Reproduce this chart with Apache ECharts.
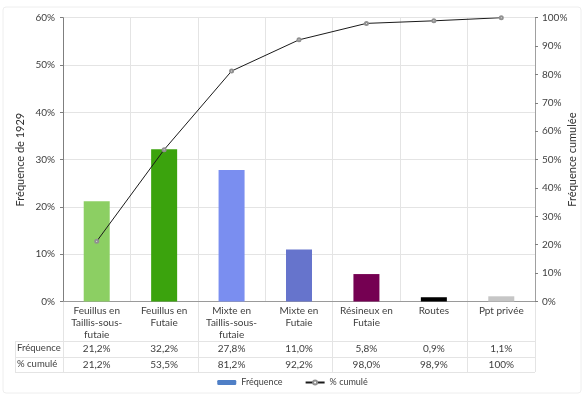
<!DOCTYPE html>
<html>
<head>
<meta charset="utf-8">
<script src="https://cdn.jsdelivr.net/npm/echarts@6/dist/echarts.min.js"></script>
<style>
  html, body { margin: 0; padding: 0; background: #fff; }
  #chart { width: 585px; height: 397px; }
</style>
</head>
<body>
<div id="chart"></div>
<script>
var categories = ['Feuillus en\nTaillis-sous-\nfutaie', 'Feuillus en\nFutaie', 'Mixte en\nTaillis-sous-\nfutaie', 'Mixte en\nFutaie', 'Résineux en\nFutaie', 'Routes', 'Ppt privée'];
var frequence = [21.2, 32.2, 27.8, 11.0, 5.8, 0.9, 1.1];
var cumule = [21.2, 53.5, 81.2, 92.2, 98.0, 98.9, 100];
var rowNames = ['Fréquence', '% cumulé'];
var barColors = ['#8ccf63', '#3ba30d', '#7a8ef0', '#6674cc', '#750052', '#000000', '#c6c6c6'];

var font = 'Lato';
var txt = '#404040';
var grid = '#e4e4e4';

function pct(v) {
  return v === 100 ? '100%' : v.toFixed(1).replace('.', ',') + '%';
}
var freqLabels = frequence.map(pct);
var cumLabels = cumule.map(pct);

var chart = echarts.init(document.getElementById('chart'));

function rowAxis(labels, offset) {
  return {
    type: 'category',
    gridIndex: 0,
    position: 'bottom',
    offset: offset,
    data: labels,
    axisLine: { show: false },
    axisTick: { show: false },
    splitLine: { show: false },
    axisLabel: { margin: 2, fontFamily: font, fontSize: 10, color: txt }
  };
}

var option = {
  backgroundColor: '#fff',
  animation: false,
  textStyle: { fontFamily: font },
  grid: [
    { left: 63, right: 50, top: 17.7, bottom: 95.5, outerBoundsMode: 'none' },
    { left: 63, right: 50, top: 301.5, bottom: 25, outerBoundsMode: 'none' }
  ],
  legend: {
    bottom: 5,
    left: 'center',
    itemWidth: 19,
    itemHeight: 5,
    itemGap: 22,
    textStyle: { fontFamily: font, fontSize: 9, color: txt },
    data: ['Fréquence', '% cumulé']
  },
  xAxis: [
    {
      type: 'category',
      gridIndex: 0,
      data: categories,
      axisLine: { lineStyle: { color: '#9a9a9a' } },
      axisTick: { show: false },
      splitLine: { show: true, lineStyle: { color: grid } },
      axisLabel: { interval: 0, margin: 3, fontFamily: font, fontSize: 10, lineHeight: 12, color: txt }
    },
    rowAxis(freqLabels, 40),
    rowAxis(cumLabels, 56),
    {
      type: 'category',
      gridIndex: 1,
      data: categories,
      axisLine: { show: false },
      axisTick: { show: false },
      axisLabel: { show: false },
      splitLine: { show: true, lineStyle: { color: grid } }
    }
  ],
  yAxis: [
    {
      type: 'value',
      gridIndex: 0,
      min: 0,
      max: 60,
      interval: 10,
      axisLine: { show: true, lineStyle: { color: '#7f7f7f' } },
      axisTick: { show: true, length: 3, lineStyle: { color: '#7f7f7f' } },
      splitLine: { lineStyle: { color: grid } },
      axisLabel: { formatter: '{value}%', margin: 8, fontFamily: font, fontSize: 10, color: txt },
      name: 'Fréquence de 1929',
      nameLocation: 'middle',
      nameGap: 37,
      nameMoveOverlap: false,
      nameTextStyle: { fontFamily: font, fontSize: 11, color: '#303030' }
    },
    {
      type: 'value',
      gridIndex: 0,
      position: 'right',
      min: 0,
      max: 100,
      interval: 10,
      axisLine: { show: true, lineStyle: { color: '#a0a0a0' } },
      axisTick: { show: true, length: 3, lineStyle: { color: '#7f7f7f' } },
      splitLine: { show: false },
      axisLabel: { formatter: '{value}%', margin: 7, fontFamily: font, fontSize: 10, color: txt },
      name: 'Fréquence cumulée',
      nameLocation: 'middle',
      nameGap: 32,
      nameRotate: 90,
      nameMoveOverlap: false,
      nameTextStyle: { fontFamily: font, fontSize: 11, color: '#303030' }
    },
    {
      type: 'value',
      gridIndex: 1,
      show: false
    }
  ],
  series: [
    {
      name: 'Fréquence',
      type: 'bar',
      xAxisIndex: 0,
      yAxisIndex: 0,
      barWidth: 26,
      itemStyle: { color: '#4f7fc6' },
      data: frequence.map(function (v, i) {
        return { value: v, itemStyle: { color: barColors[i] } };
      })
    },
    {
      name: '% cumulé',
      type: 'line',
      xAxisIndex: 0,
      yAxisIndex: 1,
      symbol: 'emptyCircle',
      symbolSize: 3,
      lineStyle: { color: '#1a1a1a', width: 1 },
      itemStyle: { color: '#909090', borderWidth: 1 },
      data: cumule
    }
  ],
  graphic: [
    { type: 'rect', shape: { x: 3, y: 7, width: 578, height: 386, r: 3 }, style: { fill: 'none', stroke: '#eeeeee' }, silent: true },
    { type: 'line', shape: { x1: 15, y1: 341.5, x2: 535, y2: 341.5 }, style: { stroke: grid } },
    { type: 'line', shape: { x1: 15, y1: 357.5, x2: 535, y2: 357.5 }, style: { stroke: grid } },
    { type: 'line', shape: { x1: 15, y1: 372.5, x2: 535, y2: 372.5 }, style: { stroke: grid } },
    { type: 'line', shape: { x1: 15.5, y1: 341.5, x2: 15.5, y2: 372.5 }, style: { stroke: grid } },
    { type: 'text', left: 17, top: 343, style: { text: rowNames[0], font: '9.5px Lato', fill: txt } },
    { type: 'text', left: 17, top: 359, style: { text: rowNames[1], font: '9.5px Lato', fill: txt } }
  ]
};
chart.setOption(option);
</script>
</body>
</html>
